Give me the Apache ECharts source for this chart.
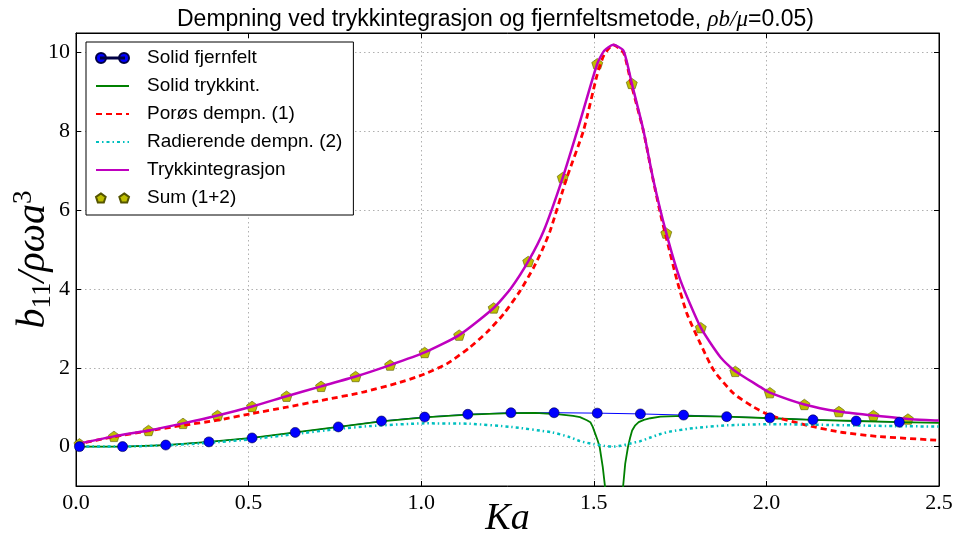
<!DOCTYPE html>
<html><head><meta charset="utf-8">
<script src="https://cdn.jsdelivr.net/npm/echarts@6/dist/echarts.min.js"></script>
<style>html,body{margin:0;padding:0;background:#fff}#c{width:953px;height:541px}</style>
</head><body><div id="c"></div>
<script>
// ---- data ----
const xTicks = [0, 0.5, 1, 1.5, 2, 2.5];
const yTicks = [0, 2, 4, 6, 8, 10];

const seriesNames = ['Solid fjernfelt', 'Solid trykkint.', 'Porøs dempn. (1)', 'Radierende dempn. (2)', 'Trykkintegrasjon', 'Sum (1+2)'];

const fjernX = [0.01,0.135,0.26,0.385,0.51,0.635,0.76,0.885,1.01,1.135,1.26,1.385,1.51,1.635,1.76,1.885,2.01,2.135,2.26,2.385];
const fjernY = [0.0,0.0,0.04,0.12,0.22,0.36,0.50,0.65,0.75,0.82,0.86,0.86,0.85,0.83,0.80,0.76,0.73,0.68,0.65,0.62];

const trykkX = [0,0.135,0.26,0.385,0.51,0.635,0.76,0.885,1.01,1.135,1.26,1.33,1.40,1.44,1.46,1.48,1.49,1.497,1.504,1.511,1.517,1.526,1.532,1.54,1.55,1.558,1.566,1.576,1.585,1.591,1.599,1.605,1.611,1.62,1.63,1.645,1.664,1.693,1.76,1.885,2.01,2.135,2.26,2.385,2.5];
const trykkY = [0.0,0.0,0.04,0.12,0.22,0.36,0.50,0.64,0.74,0.81,0.85,0.855,0.82,0.78,0.75,0.67,0.62,0.50,0.33,0.16,-0.01,-0.52,-0.98,-1.8,-4.0,-10,-5,-2.2,-1.0,-0.43,-0.01,0.22,0.41,0.54,0.62,0.68,0.72,0.76,0.78,0.76,0.72,0.68,0.65,0.62,0.60];

const porX = [0,0.11,0.21,0.31,0.41,0.51,0.61,0.71,0.83,0.93,1.0,1.074,1.141,1.19,1.239,1.287,1.326,1.35,1.374,1.422,1.47,1.51,1.53,1.556,1.586,1.61,1.644,1.67,1.693,1.712,1.741,1.77,1.809,1.848,1.906,1.964,2.012,2.118,2.214,2.321,2.5];
const porY = [0.06,0.25,0.40,0.54,0.67,0.84,1.0,1.17,1.38,1.61,1.81,2.10,2.52,2.90,3.37,3.96,4.55,4.98,5.49,6.83,8.02,9.45,9.95,10.2,10.0,9.15,8.0,6.85,5.91,5.23,4.22,3.37,2.61,1.93,1.34,1.00,0.79,0.54,0.37,0.26,0.16];

const radX = [0,0.125,0.25,0.375,0.5,0.625,0.76,0.85,1.01,1.14,1.26,1.38,1.43,1.46,1.5,1.53,1.555,1.577,1.606,1.635,1.664,1.693,1.72,1.79,1.886,2.01,2.18,2.37,2.5];
const radY = [0.0,0.0,0.03,0.09,0.18,0.31,0.45,0.52,0.59,0.58,0.50,0.36,0.24,0.14,0.06,0.02,0.0,0.02,0.08,0.14,0.23,0.32,0.38,0.47,0.54,0.57,0.55,0.52,0.51];

const integX = [0,0.11,0.21,0.31,0.41,0.51,0.61,0.71,0.81,0.91,1.01,1.11,1.21,1.26,1.31,1.355,1.41,1.46,1.51,1.53,1.556,1.586,1.61,1.644,1.673,1.71,1.751,1.81,1.867,1.91,1.983,2.01,2.11,2.21,2.31,2.41,2.5];
const integY = [0.06,0.26,0.41,0.59,0.79,1.02,1.28,1.53,1.78,2.07,2.39,2.83,3.52,4.02,4.70,5.48,6.83,8.25,9.72,10.05,10.2,10.05,9.22,8.02,6.75,5.42,4.22,3.02,2.27,1.91,1.51,1.37,1.07,0.89,0.79,0.70,0.66];

const sumX = [0.01,0.11,0.21,0.31,0.41,0.51,0.61,0.71,0.81,0.91,1.01,1.11,1.21,1.31,1.41,1.51,1.61,1.71,1.81,1.91,2.01,2.11,2.21,2.31,2.41];
const sumY = [0.07,0.26,0.41,0.59,0.79,1.02,1.28,1.53,1.78,2.07,2.39,2.83,3.52,4.70,6.83,9.72,9.22,5.42,3.02,1.91,1.37,1.07,0.89,0.79,0.70];

// ---- chart ----
const zip = (xs, ys) => xs.map((x, i) => [x, ys[i]]);
const serif = "'Liberation Serif', 'DejaVu Serif', serif";
const sans = "'Liberation Sans', Arial, sans-serif";
const pentagon = 'path://M50,0L97.55,34.55L79.39,90.45L20.61,90.45L2.45,34.55Z';
const twoPentagons = 'path://M5,0L9.755,3.455L7.939,9.045L2.061,9.045L0.245,3.455Z' +
  'M28,0L32.755,3.455L30.939,9.045L25.061,9.045L23.245,3.455Z';
const twoCircles = 'path://M0,5a5,5 0 1,0 10,0a5,5 0 1,0 -10,0Z' +
  'M23,5a5,5 0 1,0 10,0a5,5 0 1,0 -10,0Z' +
  'M5,4.5L28,4.5L28,5.5L5,5.5Z';

const chart = echarts.init(document.getElementById('c'), null, {renderer: 'canvas'});
const tickStyle = {show: true, inside: true, length: 5, lineStyle: {color: '#000', width: 1}};
const baseX = {
  type: 'value', min: 0, max: 2.5, interval: 0.5,
  axisLine: {show: true, onZero: false, lineStyle: {color: '#000', width: 1}},
};
const baseY = {
  type: 'value', min: -1, max: 10.5,
  axisLine: {show: true, onZero: false, lineStyle: {color: '#000', width: 1}},
};
const hideSym = {opacity: 0};
const option = {
  animation: false,
  backgroundColor: '#fff',
  title: {
    text: '{a|Dempning ved trykkintegrasjon og fjernfeltsmetode, }{m|ρb/μ}{a|=0.05)}',
    left: 177, top: 8, padding: 0,
    textStyle: {
      fontWeight: 'normal',
      rich: {
        a: {fontFamily: sans, fontSize: 23, fontWeight: 'normal', color: '#000'},
        m: {fontFamily: serif, fontStyle: 'italic', fontWeight: 'normal', fontSize: 23, color: '#000'}
      }
    }
  },
  grid: {left: 76, right: 14, top: 33, bottom: 55, show: true, borderColor: '#000', borderWidth: 1, backgroundColor: 'transparent', outerBoundsMode: 'none'},
  legend: {
    orient: 'vertical', left: 86, top: 42,
    padding: [6, 11, 7, 9], itemGap: 8, itemWidth: 33, itemHeight: 10,
    backgroundColor: '#fff', borderColor: '#000', borderWidth: 1, borderRadius: 0,
    data: [
      {name: seriesNames[0], icon: twoCircles},
      {name: seriesNames[1], itemStyle: hideSym},
      {name: seriesNames[2], itemStyle: hideSym},
      {name: seriesNames[3], itemStyle: hideSym},
      {name: seriesNames[4], itemStyle: hideSym},
      {name: seriesNames[5], icon: twoPentagons}
    ],
    textStyle: {fontFamily: sans, fontSize: 19, color: '#000', lineHeight: 20, padding: [0, 0, 0, 13]}
  },
  xAxis: [
    Object.assign({}, baseX, {
      position: 'bottom',
      name: 'Ka', nameLocation: 'middle', nameGap: 13, nameMoveOverlap: false,
      nameTextStyle: {fontFamily: serif, fontStyle: 'italic', fontSize: 38, lineHeight: 40, color: '#000'},
      axisTick: tickStyle,
      axisLabel: {color: '#000', fontFamily: serif, fontSize: 22, margin: 6, formatter: v => v.toFixed(1)},
      splitLine: {show: true, lineStyle: {color: '#b0b0b0', type: [1.5, 3], width: 1}}
    }),
    Object.assign({}, baseX, {
      position: 'top', axisTick: tickStyle, axisLabel: {show: false}, splitLine: {show: false}
    })
  ],
  yAxis: [
    Object.assign({}, baseY, {
      position: 'left',
      name: '{m|b}{s|11}{m|/ρωa}{p|3}', nameLocation: 'middle', nameGap: 20, nameMoveOverlap: false,
      nameTextStyle: {
        color: '#000',
        rich: {
          m: {fontFamily: serif, fontStyle: 'italic', fontSize: 40, lineHeight: 46, color: '#000', verticalAlign: 'middle'},
          s: {fontFamily: serif, fontSize: 27, lineHeight: 27, color: '#000', verticalAlign: 'bottom'},
          p: {fontFamily: serif, fontSize: 27, lineHeight: 27, color: '#000', verticalAlign: 'top'}
        }
      },
      axisTick: Object.assign({customValues: yTicks}, tickStyle),
      axisLabel: {color: '#000', fontFamily: serif, fontSize: 22, margin: 6, customValues: yTicks},
      splitLine: {show: true, lineStyle: {color: '#b0b0b0', type: [1.5, 3], width: 1}}
    }),
    Object.assign({}, baseY, {
      position: 'right',
      axisTick: Object.assign({customValues: yTicks}, tickStyle),
      axisLabel: {show: false, customValues: yTicks}, splitLine: {show: false}
    })
  ],
  series: [
    {
      name: seriesNames[0], type: 'line', data: zip(fjernX, fjernY),
      symbol: 'circle', symbolSize: 10, showAllSymbol: true,
      lineStyle: {color: '#0000ff', width: 1},
      itemStyle: {color: '#0000ff', borderColor: '#000044', borderWidth: 0.6}
    },
    {
      name: seriesNames[1], type: 'line', data: zip(trykkX, trykkY),
      showSymbol: false, symbol: 'none', smooth: false,
      lineStyle: {color: '#008000', width: 1.8}, itemStyle: {color: '#008000'}
    },
    {
      name: seriesNames[2], type: 'line', data: zip(porX, porY),
      showSymbol: false, symbol: 'none', smooth: 0.2,
      lineStyle: {color: '#ff0000', width: 2.8, type: [6, 4]}, itemStyle: {color: '#ff0000'}
    },
    {
      name: seriesNames[3], type: 'line', data: zip(radX, radY),
      showSymbol: false, symbol: 'none', smooth: 0.2,
      lineStyle: {color: '#00bfbf', width: 2.5, type: [3, 3, 1.5, 3]}, itemStyle: {color: '#00bfbf'}
    },
    {
      name: seriesNames[4], type: 'line', data: zip(integX, integY),
      showSymbol: false, symbol: 'none', smooth: 0.2,
      lineStyle: {color: '#bf00bf', width: 2.5}, itemStyle: {color: '#bf00bf'}
    },
    {
      name: seriesNames[5], type: 'scatter', data: zip(sumX, sumY),
      symbol: pentagon, symbolSize: 11, symbolKeepAspect: true,
      itemStyle: {color: '#bfbf00', borderColor: '#555500', borderWidth: 0.6, opacity: 1}
    }
  ]
};
chart.setOption(option);
</script>
</body></html>
